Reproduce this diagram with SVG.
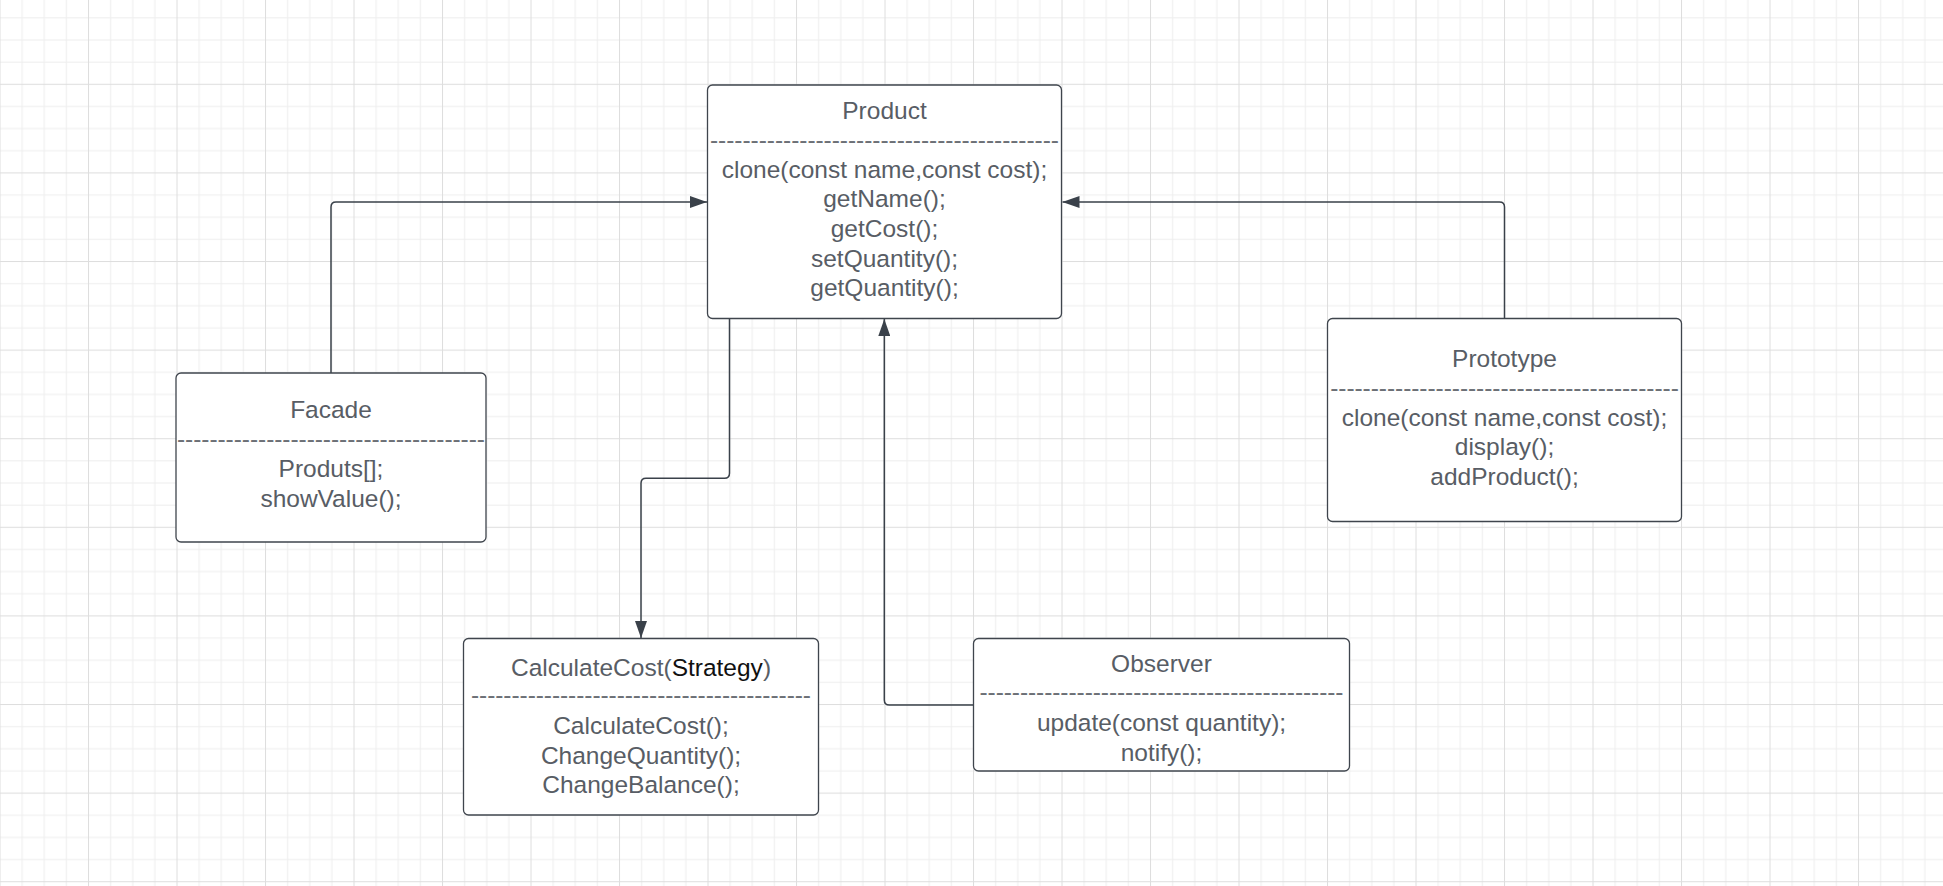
<svg xmlns="http://www.w3.org/2000/svg" width="1943" height="886" viewBox="0 0 1943 886">
  <style>
    .box { fill: #ffffff; stroke: #3f454d; stroke-width: 1.3; }
    .t { font-family: "Liberation Sans", Arial, sans-serif; font-size: 24.5px; fill: #585d65; text-anchor: middle; }
    .sep { font-family: "Liberation Sans", Arial, sans-serif; font-size: 24.5px; fill: #6c7076; text-anchor: middle; }
    .dark { fill: #111111; }
    .edge { fill: none; stroke: #3a414a; stroke-width: 1.5; }
  </style>
  <defs>
    <!-- background grid: minor every quarter, darker major line per tile -->
    <pattern id="grid" patternUnits="userSpaceOnUse" x="-0.5" y="-4.8" width="88.5" height="88.6">
      <rect x="0" y="0" width="88.5" height="88.6" fill="#ffffff"/>
      <rect x="22.125" y="0" width="1" height="88.6" fill="#eeeeee"/>
      <rect x="44.25" y="0" width="1" height="88.6" fill="#eeeeee"/>
      <rect x="66.375" y="0" width="1" height="88.6" fill="#eeeeee"/>
      <rect x="0" y="22.15" width="88.5" height="1" fill="#eeeeee"/>
      <rect x="0" y="44.3" width="88.5" height="1" fill="#eeeeee"/>
      <rect x="0" y="66.45" width="88.5" height="1" fill="#eeeeee"/>
      <rect x="0" y="0" width="1" height="88.6" fill="#dedede"/>
      <rect x="0" y="0" width="88.5" height="1" fill="#dedede"/>
    </pattern>
    <marker id="arrow" markerUnits="userSpaceOnUse" viewBox="0 0 17 12" refX="17" refY="6" markerWidth="17" markerHeight="12" orient="auto">
      <path d="M0,0 L17,6 L0,12 Z" fill="#3a414a"/>
    </marker>
  </defs>

  <rect x="0" y="0" width="1943" height="886" fill="url(#grid)"/>

  <g id="connectors">
    <path class="edge" d="M331,373 V207 Q331,202 336,202 H707" marker-end="url(#arrow)"/>
    <path class="edge" d="M729.5,318.5 V473.3 Q729.5,478.3 724.5,478.3 H646 Q641,478.3 641,483.3 V638" marker-end="url(#arrow)"/>
    <path class="edge" d="M973.5,705 H889.3 Q884.3,705 884.3,700 V319" marker-end="url(#arrow)"/>
    <path class="edge" d="M1504.5,318.5 V207 Q1504.5,202 1499.5,202 H1062.5" marker-end="url(#arrow)"/>
  </g>

  <g id="product">
    <rect class="box" x="707.5" y="85" width="354" height="233.5" rx="5"/>
    <text class="t" x="884.5" y="119">Product</text>
    <text class="sep" x="884.5" y="147.7" textLength="349" lengthAdjust="spacing">-------------------------------------------</text>
    <text class="t" x="884.5" y="177.5">clone(const name,const cost);</text>
    <text class="t" x="884.5" y="207.2">getName();</text>
    <text class="t" x="884.5" y="236.9">getCost();</text>
    <text class="t" x="884.5" y="266.6">setQuantity();</text>
    <text class="t" x="884.5" y="296.3">getQuantity();</text>
  </g>

  <g id="facade">
    <rect class="box" x="176" y="373" width="310" height="169" rx="5"/>
    <text class="t" x="331" y="418">Facade</text>
    <text class="sep" x="331" y="447" textLength="308" lengthAdjust="spacing">--------------------------------------</text>
    <text class="t" x="331" y="477">Produts[];</text>
    <text class="t" x="331" y="507">showValue();</text>
  </g>

  <g id="calculate-cost">
    <rect class="box" x="463.5" y="638.5" width="355" height="176.5" rx="5"/>
    <text class="t" x="641" y="675.5">CalculateCost(<tspan class="dark">Strategy</tspan>)</text>
    <text class="sep" x="641" y="703.4" textLength="340" lengthAdjust="spacing">------------------------------------------</text>
    <text class="t" x="641" y="733.8">CalculateCost();</text>
    <text class="t" x="641" y="763.5">ChangeQuantity();</text>
    <text class="t" x="641" y="793.2">ChangeBalance();</text>
  </g>

  <g id="observer">
    <rect class="box" x="973.5" y="638.5" width="376" height="132.5" rx="5"/>
    <text class="t" x="1161.5" y="671.8">Observer</text>
    <text class="sep" x="1161.5" y="700" textLength="364" lengthAdjust="spacing">---------------------------------------------</text>
    <text class="t" x="1161.5" y="731.2">update(const quantity);</text>
    <text class="t" x="1161.5" y="761">notify();</text>
  </g>

  <g id="prototype">
    <rect class="box" x="1327.5" y="318.5" width="354" height="203" rx="5"/>
    <text class="t" x="1504.5" y="366.5">Prototype</text>
    <text class="sep" x="1504.5" y="396" textLength="348.6" lengthAdjust="spacing">-------------------------------------------</text>
    <text class="t" x="1504.5" y="426.2">clone(const name,const cost);</text>
    <text class="t" x="1504.5" y="454.8">display();</text>
    <text class="t" x="1504.5" y="484.5">addProduct();</text>
  </g>
</svg>
